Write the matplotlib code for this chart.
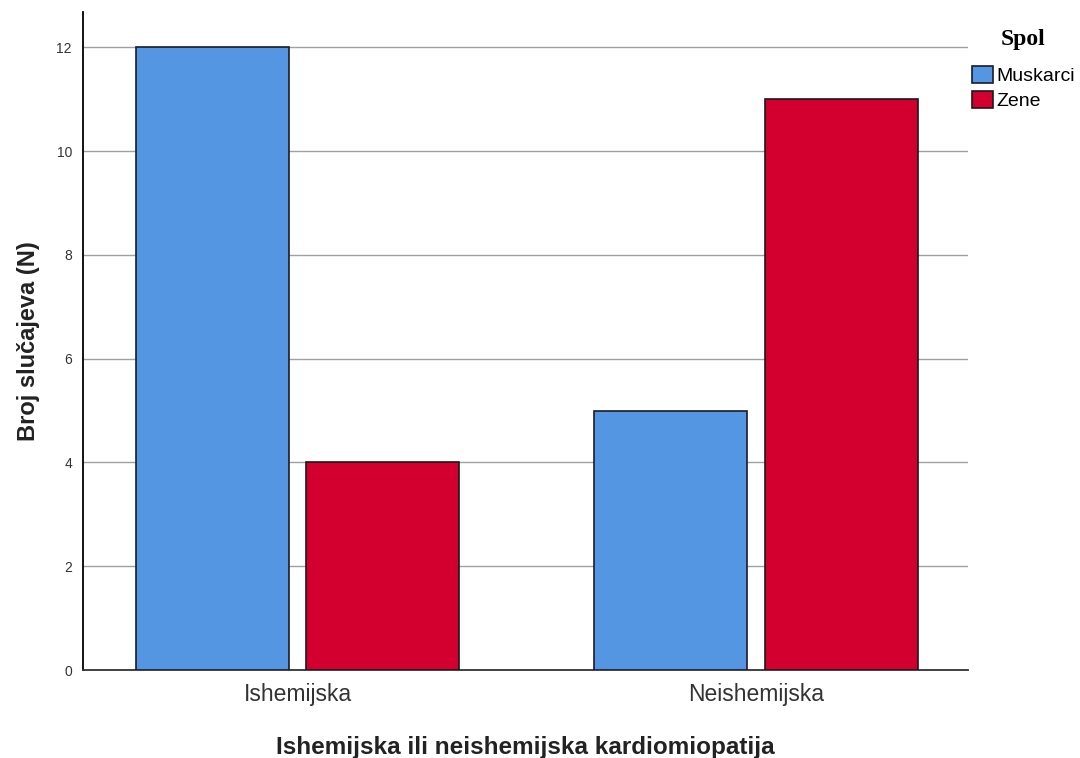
import numpy as np
import matplotlib.pyplot as plt

plt.rcParams['font.family'] = ['Liberation Sans', 'DejaVu Sans']

categories = ['Ishemijska', 'Neishemijska']
spol = ['Muskarci', 'Zene']
muskarci = [12, 5]
zene = [4, 11]
boje = ['#5596e3', '#d3002f']

fig = plt.figure(figsize=(10.8, 7.58), dpi=100)
ax = fig.add_axes([83/1080, 88/758, 885/1080, 658/758])

x = np.arange(len(categories))
w = 0.334
off = 0.186
ax.bar(x - off, muskarci, w, color=boje[0], edgecolor='#1a1a2e', linewidth=1.2, label=spol[0], zorder=3)
ax.bar(x + off, zene, w, color=boje[1], edgecolor='#1a1a1a', linewidth=1.2, label=spol[1], zorder=3)

ax.set_xlim(-0.468, 1.463)
ax.set_ylim(0, 12.68)
ax.set_yticks(range(0, 13, 2))
ax.yaxis.grid(True, color='#a0a0a0', linewidth=1, zorder=0)
ax.set_axisbelow(True)
for s in ['top', 'right']:
    ax.spines[s].set_visible(False)
ax.spines['left'].set_linewidth(1.3)
ax.spines['bottom'].set_linewidth(1.3)
ax.spines['bottom'].set_color('#333333')
ax.tick_params(axis='y', length=0, labelsize=10, colors='#333333', pad=8)
ax.tick_params(axis='x', length=0, labelsize=16.5, colors='#333333', pad=9)
ax.set_xticks(x)
ax.set_xticklabels(categories)

ax.set_ylabel('Broj slučajeva (N)', fontsize=17, fontweight='bold', color='#222222', labelpad=12)
ax.set_xlabel('Ishemijska ili neishemijska kardiomiopatija', fontsize=17.5, fontweight='bold', color='#222222', labelpad=22)

leg = ax.legend(loc='upper left', bbox_to_anchor=(0.0, 0.0), frameon=False, title='Spol',
                fontsize=14, title_fontproperties={'family': 'Liberation Serif', 'weight': 'bold', 'size': 17},
                handlelength=1.1, handleheight=0.95, handletextpad=0.15, labelspacing=0.3,
                borderaxespad=0.0, borderpad=0.7)
# wiekszy razmak izmedju naslova i stavki
leg._legend_box.sep = 12
# legend top-left in figure pixels (padding included)
leg.set_bbox_to_anchor((958/1080, 1 - 15/758), transform=fig.transFigure)

fig.savefig('out.png', dpi=100)
